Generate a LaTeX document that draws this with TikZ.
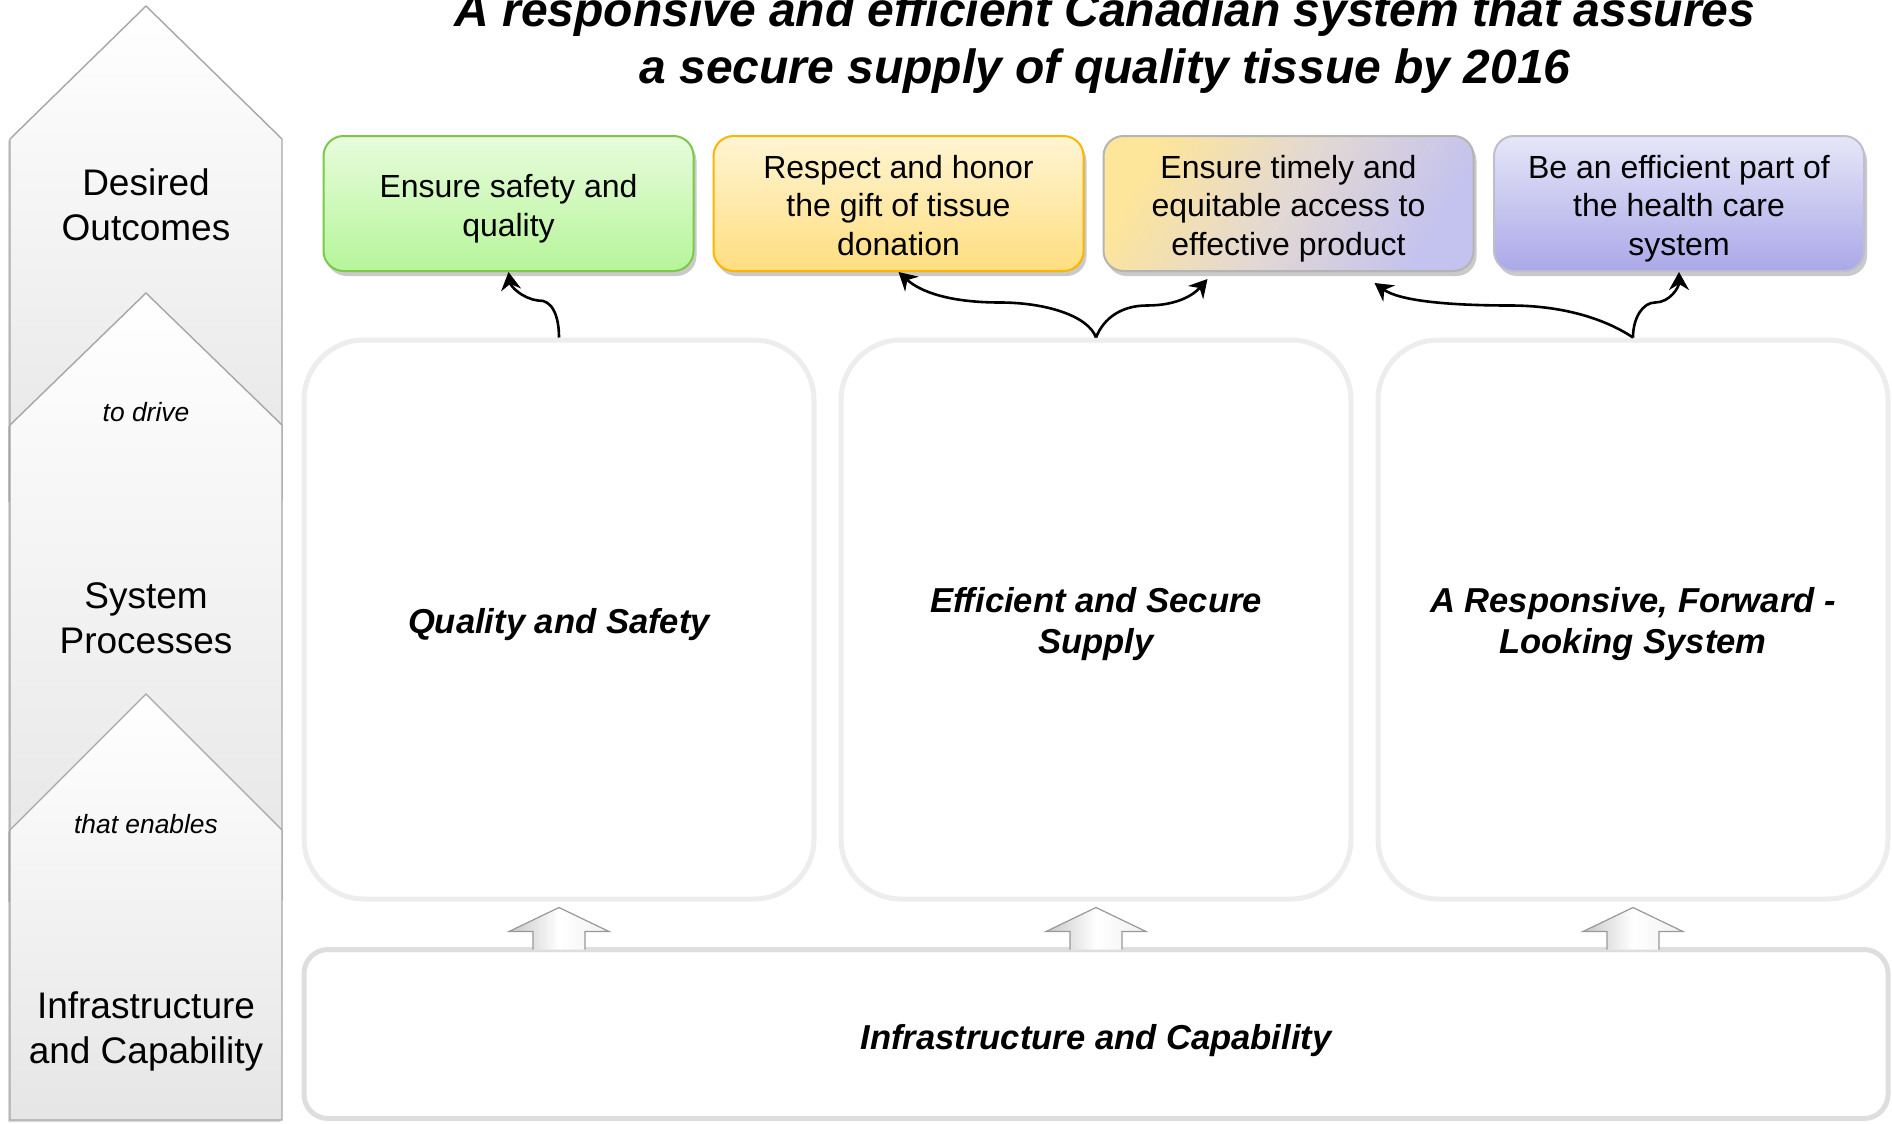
\documentclass[tikz,border=0pt]{standalone}
\usepackage{fontspec}
\setmainfont{Liberation Sans}
\usetikzlibrary{shadows,arrows.meta,calc}
\newcommand\obstrut{\rule{0pt}{16.7pt}}
\newcommand\pbstrut{\rule{0pt}{17.3pt}}
\newcommand\dpstrut{\rule[-3.4pt]{0pt}{3.4pt}}
\definecolor{gTop}{HTML}{E8FCDC}
\definecolor{gBot}{HTML}{B6F59A}
\definecolor{gDraw}{HTML}{7CC94A}
\definecolor{yTop}{HTML}{FFF5D4}
\definecolor{yBot}{HTML}{FFDE80}
\definecolor{yDraw}{HTML}{FFB400}
\definecolor{mUL}{HTML}{FDE59A}
\definecolor{mMid}{HTML}{E2D8D4}
\definecolor{mLR}{HTML}{C4C2EE}
\definecolor{mDraw}{HTML}{B4B4B4}
\definecolor{bTop}{HTML}{E6E6F8}
\definecolor{bBot}{HTML}{ABA8E8}
\definecolor{bDraw}{HTML}{BEBED0}
\begin{document}
\begin{tikzpicture}[x=0.5pt,y=-0.5pt,
  segm/.style={draw=black!35, line width=0.7pt, top color=white, bottom color=black!10,
    drop shadow={shadow xshift=-1pt, shadow yshift=-1pt, opacity=0.25, fill=black!60}},
  sidelbl/.style={align=center, inner sep=0pt, font=\fontsize{18.5}{22.3}\selectfont},
  sidesmall/.style={inner sep=0pt, font=\itshape\fontsize{13.2}{15.8}\selectfont},
  obox/.style={rounded corners=10pt, minimum width=185pt, minimum height=67.5pt,
    align=center, inner sep=0pt, line width=1pt, font=\fontsize{16}{19.3}\selectfont,
    drop shadow={shadow xshift=1.5pt, shadow yshift=-2.5pt, opacity=0.35, fill=black!60}},
  pbox/.style={draw=black!7, line width=2.5pt, rounded corners=30pt, fill=white,
    minimum width=255pt, minimum height=279.5pt, align=center, inner sep=0pt,
    font=\bfseries\itshape\fontsize{17.3}{20.5}\selectfont},
  link/.style={line width=1.3pt, -{Stealth[length=9pt,width=10pt,inset=3pt]}},
  uparr/.style={draw=black!40, line width=0.6pt, left color=black!22, right color=black!6, middle color=white}
]
\useasboundingbox (0,0) rectangle (1892,1124);

% left column
\path[segm] (10,139) -- (146,6) -- (282,139) -- (282,500) -- (10,500) -- cycle;
\path[segm] (10,425) -- (146,293) -- (282,425) -- (282,900) -- (10,900) -- cycle;
\path[segm] (10,830) -- (146,694) -- (282,830) -- (282,1120) -- (10,1120) -- cycle;

\node[sidelbl] (ldo) at (146,205) {Desired\\Outcomes};
\node[sidesmall] (ltd) at (146,412) {to drive};
\node[sidelbl] (lsp) at (146,618) {System\\Processes};
\node[sidesmall] (lte) at (146,824) {that enables};
\node[sidelbl] (lic) at (146,1031.5) {Infrastructure\\and Capability};

% title
\node[align=center, inner sep=0pt, font=\bfseries\itshape\fontsize{24}{28.4}\selectfont] (title) at (1105,42.5)
  {A responsive and efficient Canadian system that assures\\a secure supply of quality tissue by 2016};

% outcome boxes
\node[obox, draw=gDraw, top color=gTop, bottom color=gBot] (o1) at (508.5,203.5) {\obstrut Ensure safety and\\quality};
\node[obox, draw=yDraw, top color=yTop, bottom color=yBot] (o2) at (898.5,203.5) {\obstrut Respect and honor\\the gift of tissue\\donation\dpstrut};
\node[obox, draw=mDraw, top color=mUL, bottom color=mLR, middle color=mMid, shading angle=60] (o3) at (1288.5,203.5) {\obstrut Ensure timely and\\equitable access to\\effective product};
\node[obox, draw=bDraw, top color=bTop, bottom color=bBot] (o4) at (1679,203.5) {\obstrut Be an efficient part of\\the health care\\system};

% process boxes
\node[pbox] (qs) at (559,619.5) {\pbstrut Quality and Safety};
\node[pbox] (es) at (1096,619.5) {\pbstrut Efficient and Secure\\Supply};
\node[pbox] (rf) at (1633,619.5) {\pbstrut A Responsive, Forward -\\Looking System};

% infrastructure box
\node[draw=black!13, line width=2.5pt, rounded corners=12pt, fill=white,
  minimum width=792pt, minimum height=84.5pt, inner sep=0pt,
  execute at begin node={\rule{0pt}{18.6pt}},
  font=\bfseries\itshape\fontsize{17.3}{20.5}\selectfont] (ic) at (1096,1034) {Infrastructure and Capability};

% block up arrows
\foreach \n in {qs,es,rf}{
  \begin{scope}[shift={(\n.south)}]
    \path[uparr] (-26,48) -- (-26,30) -- (-50,30) -- (0,6) -- (50,30) -- (26,30) -- (26,48);
  \end{scope}
}

% connectors
\coordinate (ma)  at ($(qs.north)+(-21,-37)$);
\coordinate (mbl) at ($(es.north)+(-96,-35)$);
\coordinate (mbr) at ($(es.north)+(51,-32)$);
\coordinate (mcl) at ($(rf.north)+(-123,-32)$);
\coordinate (mcr) at ($(rf.north)+(22,-35)$);
\coordinate (t3a) at ($(o3.south)+(-81,7)$);
\coordinate (t3b) at ($(o3.south)+(86,11)$);

\draw[link] (qs.north) .. controls +(0,-22) and +(14,-1) .. (ma) .. controls +(-16,-2) and +(2,14) .. (o1.south);
\draw[link] (es.north) .. controls +(-8,-22) and +(45,0) .. (mbl) .. controls +(-50,0) and +(22,20) .. (o2.south);
\draw[link] (es.north) .. controls +(8,-20) and +(-25,0) .. (mbr) .. controls +(30,0) and +(-14,16) .. (t3a);
\draw[link] (rf.north) .. controls +(-30,-20) and +(50,0) .. (mcl) .. controls +(-60,0) and +(25,18) .. (t3b);
\draw[link] (rf.north) .. controls +(0,-20) and +(-12,0) .. (mcr) .. controls +(15,0) and +(0,15) .. (o4.south);
\end{tikzpicture}
\end{document}
